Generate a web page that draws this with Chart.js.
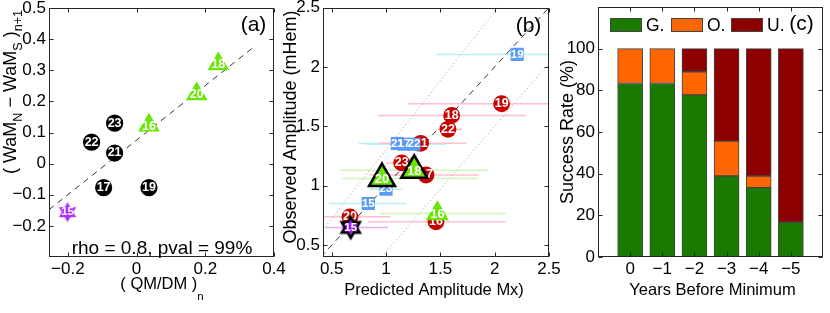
<!DOCTYPE html>
<html>
<head>
<meta charset="utf-8">
<title>Cycle prediction panels</title>
<script src="https://cdn.jsdelivr.net/npm/chart.js@4.4.1/dist/chart.umd.min.js"></script>
<style>
  html, body { margin: 0; padding: 0; background: #fff; }
  #fig { position: relative; width: 830px; height: 313px; overflow: hidden; }
  #fig canvas { position: absolute; left: 0; top: 0; }
</style>
</head>
<body>
<div id="fig">
  <canvas id="panelA" width="830" height="313"></canvas>
  <canvas id="panelB" width="830" height="313"></canvas>
  <canvas id="panelC" width="830" height="313"></canvas>
</div>
<script>
// ---- panel (a): (QM/DM)_n vs (WaM_N - WaM_S)_n+1 ----
const aStarTags = ["15"];
const aStarX = [-0.201];
const aStarY = [-0.156];
const aBlackTags = ["17", "19", "21", "22", "23"];
const aBlackX = [-0.096, 0.036, -0.064, -0.131, -0.064];
const aBlackY = [-0.077, -0.077, 0.034, 0.069, 0.13];
const aGreenTags = ["16", "20", "18"];
const aGreenX = [0.036, 0.175, 0.238];
const aGreenY = [0.123, 0.224, 0.32];
const aFitX = [-0.255, 0.345];
const aFitY = [-0.148, 0.378];
const aXTicks = [-0.2, 0, 0.2, 0.4];
const aYTicks = [-0.2, -0.1, 0, 0.1, 0.2, 0.3, 0.4, 0.5];

// ---- panel (b): predicted vs observed amplitude ----
const bRedTags = ["16", "17", "18", "19", "20", "21", "22", "23"];
const bRedX = [1.46, 1.368, 1.604, 2.064, 0.668, 1.319, 1.57, 1.144];
const bRedY = [0.696, 1.09, 1.592, 1.69, 0.738, 1.357, 1.475, 1.192];
const bRedLo = [0.834, 0.85, 0.925, 1.2, 0.4, 0.93, 1.47, 1.0];
const bRedHi = [2.1, 1.85, 2.29, 2.7, 1.04, 1.74, 1.7, 1.3];

const bBlueTags = ["15", "23", "21", "17", "22", "19"];
const bBlueX = [0.837, 1.0, 1.104, 1.165, 1.257, 2.207];
const bBlueY = [0.85, 0.97, 1.355, 1.349, 1.349, 2.105];
const bBlueLo = [0.475, 0.85, 0.75, 0.82, 0.95, 1.466];
const bBlueHi = [1.19, 1.15, 1.45, 1.52, 1.55, 2.7];

const bGreenTags = ["16"];
const bGreenX = [1.473];
const bGreenY = [0.766];
const bGreenLo = [0.944];
const bGreenHi = [2.1];

const bBigTags = ["20", "18"];
const bBigX = [0.963, 1.26];
const bBigY = [1.06, 1.13];
const bBigLo = [0.6, 0.58];
const bBigHi = [1.84, 1.94];

const bStarTags = ["15"];
const bStarX = [0.675];
const bStarY = [0.649];
const bStarLo = [0.44];
const bStarHi = [1.02];

const bOneX = [0.4, 2.5], bOneY = [0.4, 2.5];
const bUpX = [0.42, 2.03], bUpY = [0.63, 2.5];
const bDownX = [0.96, 2.5], bDownY = [0.4, 2.03];
const bTicks = [0.5, 1, 1.5, 2, 2.5];

// ---- panel (c): success rate by years before minimum ----
const cYears = ["0", "\u22121", "\u22122", "\u22123", "\u22124", "\u22125"];
const cSeries = ["G.", "O.", "U."];
const cGood = [83.3, 83.3, 77.8, 38.9, 33.3, 16.7];
const cOver = [16.7, 16.7, 11.1, 16.7, 5.6, 0];
const cUnder = [0, 0, 11.1, 44.4, 61.1, 83.3];
const cYTicks = [0, 20, 40, 60, 80, 100];

const FONT = '"Liberation Sans", Arial, Helvetica, sans-serif';
const TICK_SIZE = 17;
Chart.defaults.font.family = FONT;
Chart.defaults.color = "#000";

const pts = (xs, ys) => xs.map((x, i) => ({ x, y: ys[i] }));
// horizontal error bars as one broken line
const bars = (lo, hi, ys) =>
  lo.flatMap((l, i) => [{ x: l, y: ys[i] }, { x: hi[i], y: ys[i] }, { x: hi[i], y: null }]);
const fmt = (v) => String(+Number(v).toFixed(2)).replace("-", "\u2212");
const TICK = 4;

function hexagram(R, fill, edge, lw) {
  const s = Math.ceil(2 * R + 2 * lw + 4);
  const c = document.createElement("canvas");
  c.width = s; c.height = s;
  const g = c.getContext("2d");
  g.translate(s / 2, s / 2);
  g.beginPath();
  for (let k = 0; k < 12; k++) {
    const r = k % 2 ? R / Math.sqrt(3) : R;
    const ang = -Math.PI / 2 + (k * Math.PI) / 6;
    g.lineTo(r * Math.cos(ang), r * Math.sin(ang));
  }
  g.closePath();
  g.fillStyle = fill;
  g.fill();
  if (lw) { g.lineWidth = lw; g.strokeStyle = edge; g.lineJoin = "miter"; g.stroke(); }
  return c;
}

function drawRich(ctx, t) {
  const sub = t.size * 0.7;
  ctx.save();
  ctx.translate(t.x, t.y);
  if (t.rot) ctx.rotate(t.rot);
  let w = 0;
  const runs = t.parts.map(([s, isSub]) => {
    ctx.font = `${isSub ? sub : t.size}px ${FONT}`;
    const m = ctx.measureText(s).width;
    w += m;
    return [s, isSub, m];
  });
  let x = -w / 2;
  ctx.fillStyle = "#000";
  ctx.textBaseline = "alphabetic";
  const base = t.size * 0.36;
  runs.forEach(([s, isSub, m]) => {
    ctx.font = `${isSub ? sub : t.size}px ${FONT}`;
    ctx.fillText(s, x, base + (isSub ? (t.subDy ?? t.size * 0.35) : 0));
    x += m;
  });
  ctx.restore();
}

const textLayer = (items) => ({
  id: "texts",
  afterDraw(chart) { items.forEach((t) => drawRich(chart.ctx, t)); }
});

// box with inward tick marks, like the original axes
const frame = {
  id: "frame",
  afterDraw(chart) {
    const { ctx, chartArea: a } = chart;
    const L = Math.round(a.left) + 0.5, R = Math.round(a.right) - 0.5;
    const T = Math.round(a.top) + 0.5, B = Math.round(a.bottom) - 0.5;
    const sx = chart.scales.x, sy = chart.scales.y;
    ctx.save();
    ctx.strokeStyle = "#262626";
    ctx.lineWidth = 1;
    ctx.beginPath();
    sx.ticks.forEach((t, i) => {
      if (t.label === "") return;
      const p = Math.round(sx.getPixelForTick(i)) + 0.5;
      ctx.moveTo(p, B); ctx.lineTo(p, B - TICK);
      ctx.moveTo(p, T); ctx.lineTo(p, T + TICK);
    });
    sy.ticks.forEach((t, i) => {
      if (t.label === "") return;
      const p = Math.round(sy.getPixelForTick(i)) + 0.5;
      ctx.moveTo(L, p); ctx.lineTo(L + TICK, p);
      ctx.moveTo(R, p); ctx.lineTo(R - TICK, p);
    });
    ctx.stroke();
    ctx.strokeRect(L, T, R - L, B - T);
    ctx.restore();
  }
};

// white cycle numbers on the markers, drawn with their own dataset
const tags = {
  id: "tags",
  afterDatasetDraw(chart, args) {
    const ds = chart.data.datasets[args.index];
    if (!ds.tags) return;
    const ctx = chart.ctx;
    ctx.save();
    ctx.font = `bold ${ds.tagSize || 12.5}px ${FONT}`;
    ctx.fillStyle = "#fff";
    ctx.textAlign = "center";
    ctx.textBaseline = "middle";
    args.meta.data.forEach((el, i) => ctx.fillText(ds.tags[i], el.x, el.y + (ds.tagDy || 0)));
    ctx.restore();
  }
};

function linScale(min, max, ticks, box) {
  return {
    type: "linear", min, max,
    grid: { display: false, drawTicks: false }, border: { display: false },
    afterBuildTicks: (s) => { s.ticks = ticks.map((v) => ({ value: v })); },
    afterFit: (s) => {
      if (box.w) s.width = box.w;
      if (box.h) s.height = box.h;
      s.paddingLeft = s.paddingRight = s.paddingTop = s.paddingBottom = 0;
    },
    ticks: { autoSkip: false, maxRotation: 0, padding: box.pad, font: { size: TICK_SIZE, lineHeight: 1 }, callback: fmt }
  };
}

function baseOptions(pad, scales) {
  return {
    responsive: false, animation: false, devicePixelRatio: 1,
    layout: { autoPadding: false, padding: pad },
    plugins: { legend: { display: false }, tooltip: { enabled: false } },
    scales
  };
}

// ---------- panel (a) ----------
new Chart(document.getElementById("panelA"), {
  type: "scatter",
  data: {
    datasets: [
      { data: pts(aStarX, aStarY), tags: aStarTags, pointStyle: hexagram(10, "#b030ff", "#b030ff", 0),
        pointRadius: 10, order: 1, tagSize: 11.5 },
      { data: pts(aGreenX, aGreenY), tags: aGreenTags, pointStyle: "triangle", pointRadius: 12.5,
        backgroundColor: "#66e600", borderWidth: 0, order: 2, tagDy: 1 },
      { data: pts(aBlackX, aBlackY), tags: aBlackTags, pointStyle: "circle", pointRadius: 8.6,
        backgroundColor: "#000", borderWidth: 0, order: 3 },
      { type: "line", data: pts(aFitX, aFitY), borderColor: "#333", borderWidth: 1, borderDash: [6, 5],
        pointRadius: 0, order: 9 }
    ]
  },
  options: baseOptions({ left: 0, top: 8, right: 830 - 274, bottom: 0 }, {
    x: linScale(-0.255, 0.4, aXTicks, { h: 56, pad: 4 }),
    y: linScale(-0.3, 0.5, aYTicks, { w: 49, pad: 3 })
  }),
  plugins: [tags, frame, textLayer([
    { parts: [["( WaM"], ["N", 1], [" \u2212 WaM"], ["S", 1], [" )"], ["n+1", 1]], x: 10, y: 92, rot: -Math.PI / 2, size: 18, subDy: 6 },
    { parts: [["( QM/DM )"], ["n", 1]], x: 162, y: 283, size: 16.5, subDy: 11 },
    { parts: [["rho = 0.8, pval = 99%"]], x: 162, y: 247.5, size: 19 },
    { parts: [["(a)"]], x: 253.5, y: 23, size: 21 }
  ])]
});

// ---------- panel (b) ----------
new Chart(document.getElementById("panelB"), {
  type: "scatter",
  data: {
    datasets: [
      { data: pts(bStarX, bStarY), tags: bStarTags, pointStyle: hexagram(10.5, "#a020f0", "#000", 2.5),
        pointRadius: 10, order: 1, tagSize: 11.5 },
      { data: pts(bBigX, bBigY), tags: bBigTags, pointStyle: "triangle", pointRadius: 15,
        backgroundColor: "#66e600", borderColor: "#000", borderWidth: 2.5, order: 2, tagSize: 13, tagDy: 1 },
      { data: pts(bGreenX, bGreenY), tags: bGreenTags, pointStyle: "triangle", pointRadius: 13.3,
        backgroundColor: "#66e600", borderWidth: 0, order: 3, tagSize: 13, tagDy: 1 },
      { data: pts(bBlueX, bBlueY), tags: bBlueTags, pointStyle: "rect", pointRadius: 9.3,
        backgroundColor: "#5a9cf5", borderWidth: 0, order: 4, tagSize: 11.5 },
      { data: pts(bRedX, bRedY), tags: bRedTags, pointStyle: "circle", pointRadius: 8.4,
        backgroundColor: "#c80000", borderWidth: 0, order: 5, tagSize: 12.5 },
      { type: "line", data: pts(bOneX, bOneY), borderColor: "#333", borderWidth: 1, borderDash: [6, 5], pointRadius: 0, order: 7 },
      { type: "line", data: pts(bUpX, bUpY), borderColor: "#aaa", borderWidth: 1, borderDash: [1.2, 2.5], pointRadius: 0, order: 8 },
      { type: "line", data: pts(bDownX, bDownY), borderColor: "#aaa", borderWidth: 1, borderDash: [1.2, 2.5], pointRadius: 0, order: 8 },
      { type: "line", data: bars(bRedLo, bRedHi, bRedY), borderColor: "#ffc0d0", borderWidth: 1.5, pointRadius: 0, spanGaps: false, order: 10 },
      { type: "line", data: bars(bBlueLo, bBlueHi, bBlueY), borderColor: "#b8f2f4", borderWidth: 1.5, pointRadius: 0, spanGaps: false, order: 10 },
      { type: "line", data: bars(bGreenLo, bGreenHi, bGreenY), borderColor: "#cff5b8", borderWidth: 1.5, pointRadius: 0, spanGaps: false, order: 10 },
      { type: "line", data: bars(bBigLo, bBigHi, bBigY), borderColor: "#cff5b8", borderWidth: 1.5, pointRadius: 0, spanGaps: false, order: 10 },
      { type: "line", data: bars(bStarLo, bStarHi, bStarY), borderColor: "#e8b0f4", borderWidth: 1.5, pointRadius: 0, spanGaps: false, order: 10 }
    ]
  },
  options: baseOptions({ left: 323 - 50, top: 7.5, right: 830 - 549, bottom: 0 }, {
    x: linScale(0.42, 2.5, bTicks, { h: 56, pad: 4 }),
    y: linScale(0.4, 2.5, bTicks, { w: 50, pad: 3 })
  }),
  plugins: [tags, frame, textLayer([
    { parts: [["Observed Amplitude (mHem)"]], x: 290, y: 127, rot: -Math.PI / 2, size: 18 },
    { parts: [["Predicted Amplitude Mx)"]], x: 434, y: 289, size: 16.5 },
    { parts: [["(b)"]], x: 528.5, y: 24, size: 21 }
  ])]
});

// ---------- panel (c) ----------
const cLegend = {
  id: "cLegend",
  afterDraw(chart) {
    const { ctx, chartArea: a } = chart;
    ctx.save();
    chart.data.datasets.forEach((ds, i) => {
      const x = Math.round(a.left + 12 + i * 60.5), y = Math.round(a.top + 11);
      ctx.fillStyle = ds.backgroundColor;
      ctx.fillRect(x, y, 32, 14);
      ctx.strokeStyle = ds.borderColor;
      ctx.lineWidth = 1;
      ctx.strokeRect(x + 0.5, y + 0.5, 31, 13);
      ctx.fillStyle = "#000";
      ctx.font = `17.5px ${FONT}`;
      ctx.textBaseline = "middle";
      ctx.fillText(ds.label, x + 36, y + 8);
    });
    ctx.restore();
  }
};

const pad = (arr) => [null, ...arr, null];
const cScaleY = linScale(0, 120, cYTicks, { w: 50, pad: 3 });
cScaleY.stacked = true;

new Chart(document.getElementById("panelC"), {
  type: "bar",
  data: {
    labels: ["", ...cYears, ""],
    datasets: [
      { label: cSeries[0], data: pad(cGood), backgroundColor: "#1a7a00" },
      { label: cSeries[1], data: pad(cOver), backgroundColor: "#ff6600" },
      { label: cSeries[2], data: pad(cUnder), backgroundColor: "#8c0000" }
    ].map((d) => ({ ...d, borderColor: "#444", borderWidth: 1, borderSkipped: false, barThickness: 25 }))
  },
  options: baseOptions({ left: 598 - 50, top: 7, right: 830 - 823, bottom: 0 }, {
    x: {
      type: "category", offset: false, stacked: true,
      grid: { display: false, drawTicks: false, offset: false }, border: { display: false },
      afterFit: (s) => { s.height = 56; s.paddingLeft = s.paddingRight = s.paddingTop = s.paddingBottom = 0; },
      ticks: { autoSkip: false, maxRotation: 0, padding: 4, font: { size: TICK_SIZE, lineHeight: 1 } }
    },
    y: cScaleY
  }),
  plugins: [frame, cLegend, textLayer([
    { parts: [["Success Rate (%)"]], x: 567, y: 132, rot: -Math.PI / 2, size: 18 },
    { parts: [["Years Before Minimum"]], x: 712.5, y: 289, size: 16.5 },
    { parts: [["(c)"]], x: 801.5, y: 22, size: 21 }
  ])]
});
</script>
</body>
</html>
